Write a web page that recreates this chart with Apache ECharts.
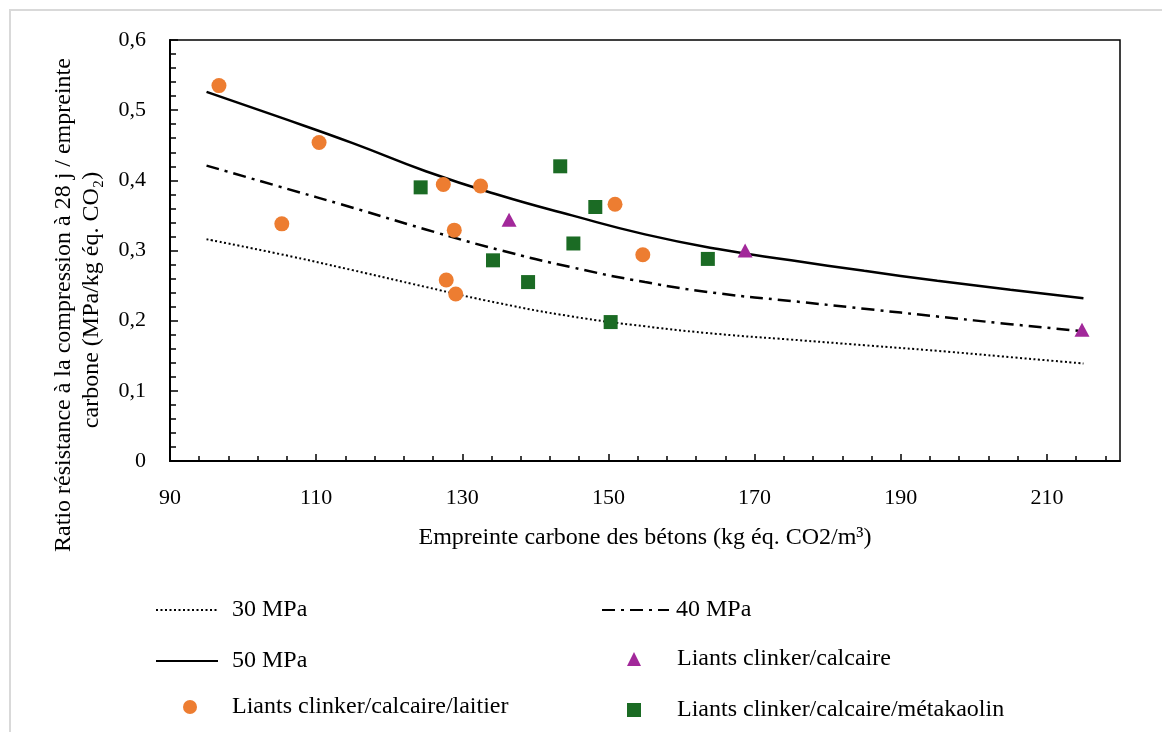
<!DOCTYPE html>
<html>
<head>
<meta charset="utf-8">
<script src="https://cdn.jsdelivr.net/npm/echarts@6/dist/echarts.min.js"></script>
<style>
html,body{margin:0;padding:0;background:#fff;}
#chart{width:1162px;height:732px;}
</style>
</head>
<body>
<div id="chart"></div>
<script>
// ---- Data ----
const xLabelTicks = [90, 110, 130, 150, 170, 190, 210];
const xMinorTicks = [90,94,98,102,106,110,114,118,122,126,130,134,138,142,146,150,154,158,162,166,170,174,178,182,186,190,194,198,202,206,210,214,218];
const yTicks = [0, 0.1, 0.2, 0.3, 0.4, 0.5, 0.6];

const curve30 = [[95,0.316],[105,0.295],[115,0.272],[125,0.248],[135,0.225],[145,0.206],[155,0.192],[165,0.181],[175,0.173],[185,0.165],[195,0.157],[205,0.148],[215,0.139]];
const curve40 = [[95,0.421],[105,0.391],[115,0.361],[125,0.330],[135,0.301],[145,0.276],[155,0.255],[165,0.239],[175,0.228],[185,0.217],[195,0.206],[205,0.195],[215,0.185]];
const curve50 = [[95,0.526],[105,0.490],[115,0.453],[125,0.413],[135,0.379],[145,0.350],[155,0.323],[165,0.302],[175,0.286],[185,0.271],[195,0.257],[205,0.244],[215,0.232]];

const laitier = [[96.7,0.535],[110.4,0.454],[105.3,0.338],[127.4,0.394],[132.5,0.392],[128.9,0.329],[127.8,0.258],[129.1,0.238],[150.9,0.366],[154.7,0.294]];
const calcaire = [[136.4,0.344],[168.7,0.300],[214.8,0.187]];
const metakaolin = [[124.3,0.390],[143.4,0.420],[148.2,0.362],[145.2,0.310],[134.2,0.286],[139.0,0.255],[150.3,0.198],[163.6,0.288]];

const names = ['30 MPa', '40 MPa', '50 MPa', 'Liants clinker/calcaire', 'Liants clinker/calcaire/laitier', 'Liants clinker/calcaire/métakaolin'];
const xTitle = 'Empreinte carbone des bétons (kg éq. CO2/m³)';
const yTitle = ['Ratio résistance à la compression à 28 j / empreinte', 'carbone (MPa/kg éq. CO₂)'];

// ---- Chart ----
const FONT = '"Liberation Serif", "DejaVu Serif", serif';
const FS = 22;   // tick numbers
const FL = 24;   // titles and legend
const chart = echarts.init(document.getElementById('chart'), null, {renderer: 'canvas'});

const legendText = (pad, size) => ({fontFamily: FONT, fontSize: size, color: '#000', padding: [0, 0, 0, pad], lineHeight: 22});

chart.setOption({
  animation: false,
  backgroundColor: '#fff',
  textStyle: {fontFamily: FONT},
  graphic: [{
    type: 'rect', silent: true, z: -1,
    shape: {x: 10, y: 10, width: 1200, height: 800},
    style: {fill: 'none', stroke: '#d9d9d9', lineWidth: 2}
  }, {
    type: 'text', silent: true, x: 64, y: 305, rotation: Math.PI / 2,
    style: {text: yTitle[0], font: FL + 'px ' + FONT, fill: '#000', textAlign: 'center', textVerticalAlign: 'middle'}
  }, {
    type: 'text', silent: true, x: 92, y: 300, rotation: Math.PI / 2,
    style: {text: yTitle[1], font: FL + 'px ' + FONT, fill: '#000', textAlign: 'center', textVerticalAlign: 'middle'}
  }],
  grid: {left: 170, right: 42, top: 40, bottom: 271, show: true, borderColor: '#000', borderWidth: 1.5, backgroundColor: 'transparent'},
  xAxis: [{
    type: 'value', min: 90, max: 220,
    name: xTitle,
    nameLocation: 'middle', nameGap: 65,
    nameTextStyle: {fontFamily: FONT, fontSize: FL, color: '#000'},
    axisLine: {show: true, onZero: false, lineStyle: {color: '#000', width: 2}},
    axisTick: {show: true, inside: true, length: 7, customValues: xLabelTicks, lineStyle: {color: '#000', width: 1.5}},
    axisLabel: {customValues: xLabelTicks, fontFamily: FONT, fontSize: FS, color: '#000', margin: 26},
    splitLine: {show: false}
  }, {
    type: 'value', min: 90, max: 220, position: 'bottom',
    axisLine: {show: false},
    axisTick: {show: true, inside: true, length: 5, customValues: xMinorTicks, lineStyle: {color: '#000', width: 1.5}},
    axisLabel: {show: false},
    splitLine: {show: false}
  }],
  yAxis: {
    type: 'value', min: 0, max: 0.6, interval: 0.1,
    axisLine: {show: true, onZero: false, lineStyle: {color: '#000', width: 2}},
    axisTick: {show: true, inside: true, length: 8, lineStyle: {color: '#000', width: 1.5}},
    minorTick: {show: true, splitNumber: 5, length: 6, lineStyle: {color: '#000', width: 1.5}},
    axisLabel: {fontFamily: FONT, fontSize: FS, color: '#000', margin: 24,
      formatter: v => (v === 0 ? '0' : v.toFixed(1).replace('.', ','))},
    splitLine: {show: false}
  },
  legend: [
    {data: ['30 MPa', '50 MPa'], orient: 'vertical', left: 155, top: 598, padding: 0, itemWidth: 62, itemHeight: 14, itemGap: 27,
      itemStyle: {opacity: 0}, textStyle: legendText(9, FL), selectedMode: false},
    {data: ['40 MPa'], orient: 'vertical', left: 601, top: 598, padding: 0, itemWidth: 67, itemHeight: 14,
      itemStyle: {opacity: 0}, textStyle: legendText(2, FL), selectedMode: false},
    {data: ['Liants clinker/calcaire/laitier'], orient: 'vertical', left: 183, top: 695, padding: 0, itemWidth: 14, itemHeight: 14, textStyle: legendText(30, FL), selectedMode: false},
    {data: ['Liants clinker/calcaire', 'Liants clinker/calcaire/métakaolin'], orient: 'vertical', left: 627, top: 647, padding: 0, itemWidth: 14, itemHeight: 14, itemGap: 27, textStyle: legendText(31, FL), selectedMode: false}
  ],
  series: [
    {name: names[0], type: 'line', data: curve30, smooth: true, symbol: 'none',
      lineStyle: {color: '#000', width: 2, type: [2, 2.5]}, itemStyle: {color: '#000'}, z: 2},
    {name: names[1], type: 'line', data: curve40, smooth: true, symbol: 'none',
      lineStyle: {color: '#000', width: 2.5, type: [13, 6, 3, 6]}, itemStyle: {color: '#000'}, z: 2},
    {name: names[2], type: 'line', data: curve50, smooth: true, symbol: 'none',
      lineStyle: {color: '#000', width: 2.5}, itemStyle: {color: '#000'}, z: 2},
    {name: names[3], type: 'scatter', data: calcaire, symbol: 'triangle', symbolSize: [15, 14],
      itemStyle: {color: '#A2289A', opacity: 1}, z: 3},
    {name: names[4], type: 'scatter', data: laitier, symbol: 'circle', symbolSize: 15,
      itemStyle: {color: '#ED7D31', opacity: 1}, z: 3},
    {name: names[5], type: 'scatter', data: metakaolin, symbol: 'rect', symbolSize: 14,
      itemStyle: {color: '#1B6B24', opacity: 1}, z: 3}
  ]
});
</script>
</body>
</html>
